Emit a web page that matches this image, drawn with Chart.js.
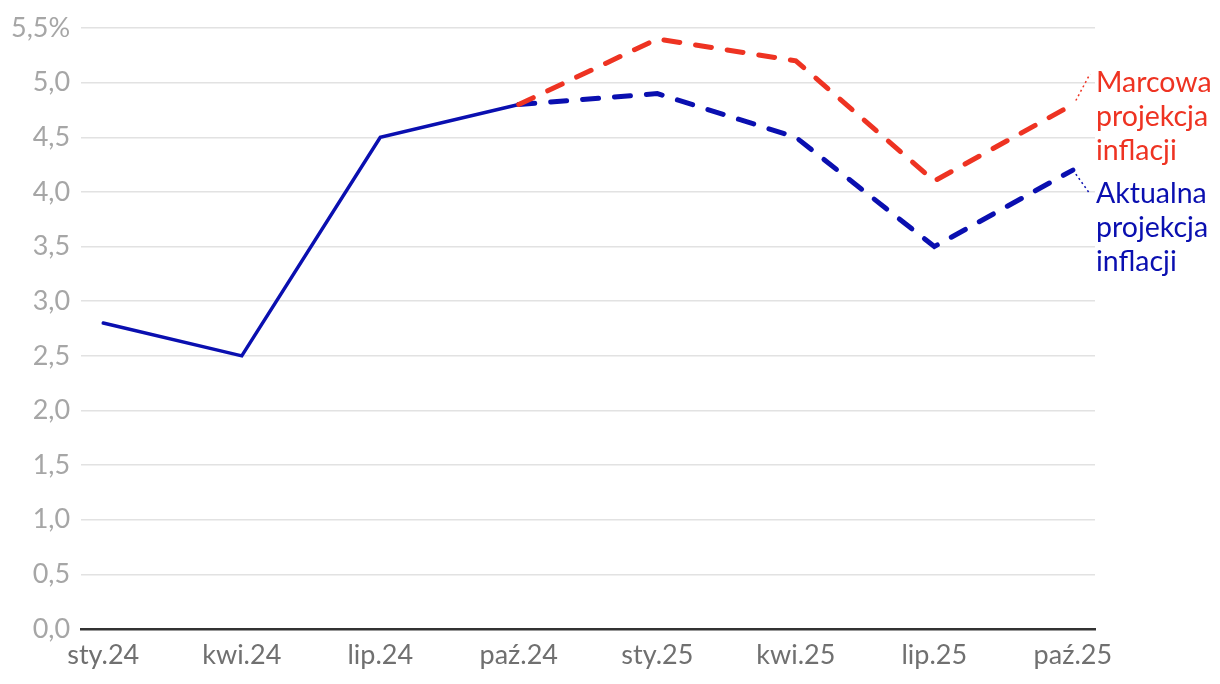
<!DOCTYPE html>
<html>
<head>
<meta charset="utf-8">
<script src="https://cdn.jsdelivr.net/npm/chart.js@4.4.1/dist/chart.umd.min.js"></script>
<style>
  html, body { margin: 0; padding: 0; background: #fff; }
  #wrap { width: 1220px; height: 684px; position: relative; }
</style>
</head>
<body>
<div id="wrap"><canvas id="c" width="1220" height="684"></canvas></div>
<script>
const categories = ['sty.24', 'kwi.24', 'lip.24', 'paź.24', 'sty.25', 'kwi.25', 'lip.25', 'paź.25'];
const actual = [2.8, 2.5, 4.5, 4.8, null, null, null, null];
const marchProjection = [null, null, null, 4.8, 5.4, 5.2, 4.1, 4.8];
const currentProjection = [null, null, null, 4.8, 4.9, 4.5, 3.5, 4.2];
const yTicks = [0, 0.5, 1, 1.5, 2, 2.5, 3, 3.5, 4, 4.5, 5, 5.5];
const marchLabel = ['Marcowa', 'projekcja', 'inflacji'];
const currentLabel = ['Aktualna', 'projekcja', 'inflacji'];

const RED = '#ee3322';
const BLUE = '#0a0fb0';

const toPts = arr => arr.map((v, i) => ({ x: i, y: v }));

const endLabels = {
  id: 'endLabels',
  afterDatasetsDraw(chart) {
    const ctx = chart.ctx;
    const xs = chart.scales.x, ys = chart.scales.y;
    const last = categories.length - 1;
    const tx = chart.chartArea.right + 1;
    const lh = 34;
    ctx.save();
    ctx.font = '28.5px Lato, "Open Sans", sans-serif';
    ctx.textAlign = 'left';
    ctx.textBaseline = 'middle';
    const draw = (lines, color, value, textY, anchorY) => {
      const px = xs.getPixelForValue(last), py = ys.getPixelForValue(value);
      ctx.strokeStyle = color;
      ctx.lineWidth = 1.5;
      ctx.setLineDash([2, 3]);
      ctx.beginPath();
      ctx.moveTo(px + 3, py + (anchorY > py ? 4 : -4));
      ctx.lineTo(tx - 6, anchorY);
      ctx.stroke();
      ctx.setLineDash([]);
      ctx.fillStyle = color;
      lines.forEach((t, i) => ctx.fillText(t, tx, textY + i * lh));
    };
    draw(marchLabel, RED, marchProjection[last], 83, 74);
    draw(currentLabel, BLUE, currentProjection[last], 194, 194);
    ctx.restore();
  }
};

new Chart(document.getElementById('c'), {
  type: 'line',
  data: {
    datasets: [
      { data: toPts(marchProjection), borderColor: RED, borderWidth: 5, borderDash: [16, 16], borderCapStyle: 'round', pointRadius: 0, fill: false },
      { data: toPts(currentProjection), borderColor: BLUE, borderWidth: 5, borderDash: [16, 16], borderCapStyle: 'round', pointRadius: 0, fill: false },
      { data: toPts(actual), borderColor: BLUE, borderWidth: 3.5, borderCapStyle: 'round', pointRadius: 0, fill: false }
    ]
  },
  options: {
    responsive: false,
    animation: false,
    layout: { padding: { top: 28, right: 125, left: 0, bottom: 2 } },
    plugins: { legend: { display: false }, tooltip: { enabled: false } },
    scales: {
      x: {
        type: 'linear',
        min: -0.16,
        max: categories.length - 1 + 0.16,
        afterBuildTicks: s => { s.ticks = categories.map((c, i) => ({ value: i })); },
        ticks: {
          callback: (v) => categories[v],
          color: '#707070',
          font: { family: 'Lato', size: 27, lineHeight: 0.85 },
          padding: 15,
          maxRotation: 0,
          autoSkip: false
        },
        grid: { display: false, drawTicks: false },
        border: { display: true, color: '#333333', width: 2.5 }
      },
      y: {
        min: 0,
        max: 5.5,
        afterBuildTicks: s => { s.ticks = yTicks.map(v => ({ value: v })); },
        ticks: {
          callback: v => v.toFixed(1).replace('.', ',') + (v === 5.5 ? '%' : ''),
          color: '#a6a6a6',
          font: { family: 'Lato', size: 27 },
          padding: 11
        },
        grid: { color: '#e2e2e2', lineWidth: 1.5, drawTicks: false },
        border: { display: false }
      }
    }
  },
  plugins: [endLabels]
});
</script>
</body>
</html>
